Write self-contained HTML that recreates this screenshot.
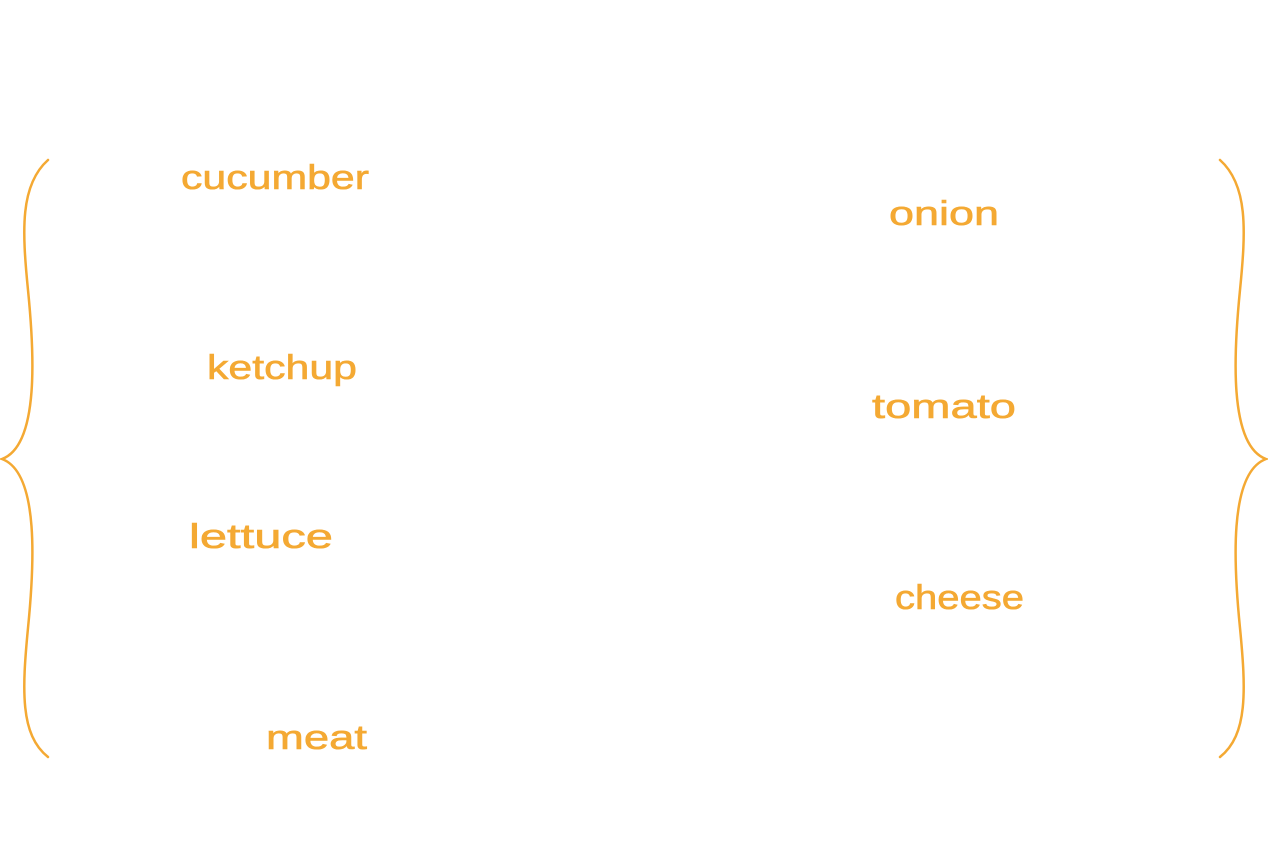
<!DOCTYPE html>
<html><head><meta charset="utf-8"><style>
html,body{margin:0;padding:0;background:#fff;}
svg{display:block}
text{font-family:"Liberation Sans",sans-serif;font-size:34px;fill:#f4a933;stroke:#f4a933;stroke-width:0.6;}
</style></head><body>
<svg width="1268" height="862" viewBox="0 0 1268 862">
<g fill="none" stroke="#f4a933" stroke-width="2.5" stroke-linecap="round">
<path d="M48,160 C20,185 22,230 28,290 C34,350 40,445 2,459 C40,473 34,568 28,628 C22,690 20,735 48,757"/>
<path d="M1220,160 C1248,185 1246,230 1240,290 C1234,350 1228,445 1266,459 C1228,473 1234,568 1240,628 C1246,690 1248,735 1220,757"/>
</g>
<text x="181" y="189" textLength="188" lengthAdjust="spacingAndGlyphs">cucumber</text>
<text x="889" y="225" textLength="110" lengthAdjust="spacingAndGlyphs">onion</text>
<text x="207" y="379" textLength="150" lengthAdjust="spacingAndGlyphs">ketchup</text>
<text x="872" y="418" textLength="144" lengthAdjust="spacingAndGlyphs">tomato</text>
<text x="189" y="548" textLength="144" lengthAdjust="spacingAndGlyphs">lettuce</text>
<text x="895" y="609" textLength="129" lengthAdjust="spacingAndGlyphs">cheese</text>
<text x="266" y="749" textLength="101" lengthAdjust="spacingAndGlyphs">meat</text>
</svg>
</body></html>
